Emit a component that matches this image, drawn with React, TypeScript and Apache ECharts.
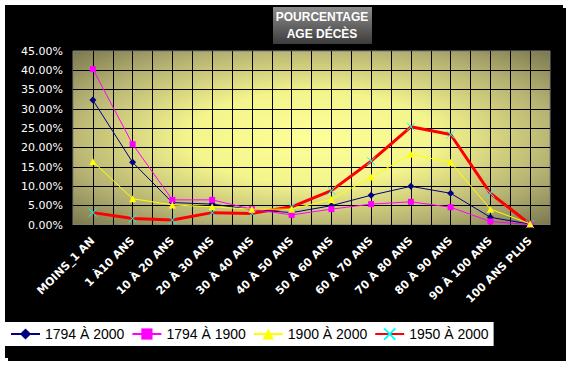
import React, { useEffect, useRef } from "react";
import * as echarts from "echarts";

const categories = [
  "MOINS_1 AN", "1 À10 ANS", "10 À 20 ANS", "20 À 30 ANS", "30 À 40 ANS", "40 À 50 ANS",
  "50 À 60 ANS", "60 À 70 ANS", "70 À 80 ANS", "80 À 90 ANS", "90 À 100 ANS", "100 ANS PLUS",
];
const s1794_2000 = [32.3, 16.2, 5.8, 5.4, 4.0, 3.2, 5.0, 7.7, 10.0, 8.2, 2.0, 0.2];
const s1794_1900 = [40.3, 20.9, 6.5, 6.5, 4.1, 2.6, 4.1, 5.4, 6.0, 4.6, 0.9, 0.1];
const s1900_2000 = [16.4, 6.8, 5.2, 4.7, 4.1, 4.1, 6.6, 12.4, 18.3, 16.2, 4.1, 0.3];
const s1950_2000 = [3.2, 1.7, 1.3, 3.2, 3.0, 4.7, 8.9, 16.5, 25.4, 23.4, 8.2, 0.2];
const seriesNames = ["1794 À 2000", "1794 À 1900", "1900 À 2000", "1950 À 2000"];
const yMin = 0;
const yMax = 45;
const yStep = 5;

export default function App() {
  const ref = useRef<HTMLDivElement>(null);
  useEffect(() => {
    if (!ref.current) return;
    const chart = echarts.init(ref.current, null, { renderer: "svg" });
    const xMark = "path://M0,0L10,10M10,0L0,10";
    chart.setOption({
      animation: false,
      backgroundColor: "#ffffff",
      graphic: [
        { type: "rect", z: -10, shape: { x: 8, y: 8, width: 558, height: 353 }, style: { fill: "#000" } },
        { type: "rect", z: -10, shape: { x: 5, y: 5, width: 558, height: 353 }, style: { fill: "#000" } },
        {
          type: "rect",
          shape: { x: 273, y: 7, width: 99, height: 37 },
          style: {
            fill: new echarts.graphic.LinearGradient(0, 0, 0, 1, [
              { offset: 0, color: "#8e8e8e" },
              { offset: 1, color: "#3c3c3c" },
            ]),
          },
        },
        {
          type: "text",
          x: 322,
          y: 25,
          style: {
            text: "POURCENTAGE\nAGE DÉCÈS",
            fill: "#fff",
            font: "bold 12px 'Liberation Sans', Arial, sans-serif",
            align: "center",
            verticalAlign: "middle",
            lineHeight: 17,
          },
        },
      ],
      grid: {
        left: 73,
        right: 21,
        top: 51,
        bottom: 142,
        show: true,
        borderColor: "#808080",
        borderWidth: 1,
        backgroundColor: new echarts.graphic.RadialGradient(0.5, 0.5, 0.75, [
          { offset: 0, color: "#ffff99" },
          { offset: 0.35, color: "#f4f48c" },
          { offset: 0.7, color: "#b4b072" },
          { offset: 1, color: "#6c6a46" },
        ]),
      },
      legend: {
        left: 5,
        top: 322,
        padding: [5, 5],
        itemWidth: 29,
        itemHeight: 14,
        itemGap: 7,
        backgroundColor: "#fff",
        data: seriesNames,
        textStyle: { color: "#000", fontSize: 14, fontFamily: "'Liberation Sans', Arial, sans-serif" },
      },
      xAxis: [
        {
          type: "category",
          data: categories,
          boundaryGap: true,
          axisLine: { show: false },
          axisTick: { show: false },
          splitLine: { show: false },
          axisLabel: {
            rotate: 45,
            interval: 0,
            margin: 14,
            color: "#fff",
            fontWeight: "bold",
            fontSize: 11,
            fontFamily: "'DejaVu Sans', Verdana, sans-serif",
          },
        },
        {
          type: "value",
          min: 0,
          max: categories.length * 2,
          interval: 1,
          position: "bottom",
          axisLine: { show: false },
          axisTick: { show: false },
          axisLabel: { show: false },
          splitLine: { show: true, showMinLine: false, showMaxLine: false, lineStyle: { color: "#000", width: 1 } },
        },
      ],
      yAxis: {
        type: "value",
        min: yMin,
        max: yMax,
        interval: yStep,
        axisLine: { show: false },
        axisTick: { show: false },
        axisLabel: {
          margin: 10,
          color: "#fff",
          fontSize: 11,
          fontFamily: "'DejaVu Sans', Verdana, sans-serif",
          formatter: (v: number) => v.toFixed(2) + "%",
        },
        splitLine: { show: true, showMaxLine: false, lineStyle: { color: "#000", width: 1 } },
      },
      series: [
        {
          name: seriesNames[0],
          type: "line",
          data: s1794_2000,
          symbol: "diamond",
          symbolSize: 7,
          itemStyle: { color: "#000080" },
          lineStyle: { color: "#000080", width: 1 },
          z: 3,
        },
        {
          name: seriesNames[1],
          type: "line",
          data: s1794_1900,
          symbol: "rect",
          symbolSize: 6,
          itemStyle: { color: "#ff00ff" },
          lineStyle: { color: "#ff00ff", width: 1 },
          z: 4,
        },
        {
          name: seriesNames[2],
          type: "line",
          data: s1900_2000,
          symbol: "triangle",
          symbolSize: 7,
          itemStyle: { color: "#ffff00" },
          lineStyle: { color: "#ffff00", width: 1 },
          z: 5,
        },
        {
          name: seriesNames[3],
          type: "line",
          data: s1950_2000,
          symbol: xMark,
          symbolSize: 8,
          itemStyle: { color: "rgba(0,0,0,0)", borderColor: "#00ffff", borderWidth: 1 },
          lineStyle: { color: "#ff0000", width: 3 },
          z: 2,
        },
      ],
    });
    return () => chart.dispose();
  }, []);
  return (
    <div
      ref={ref}
      style={{ position: "fixed", left: 0, top: 0, width: 571, height: 367 }}
    />
  );
}
